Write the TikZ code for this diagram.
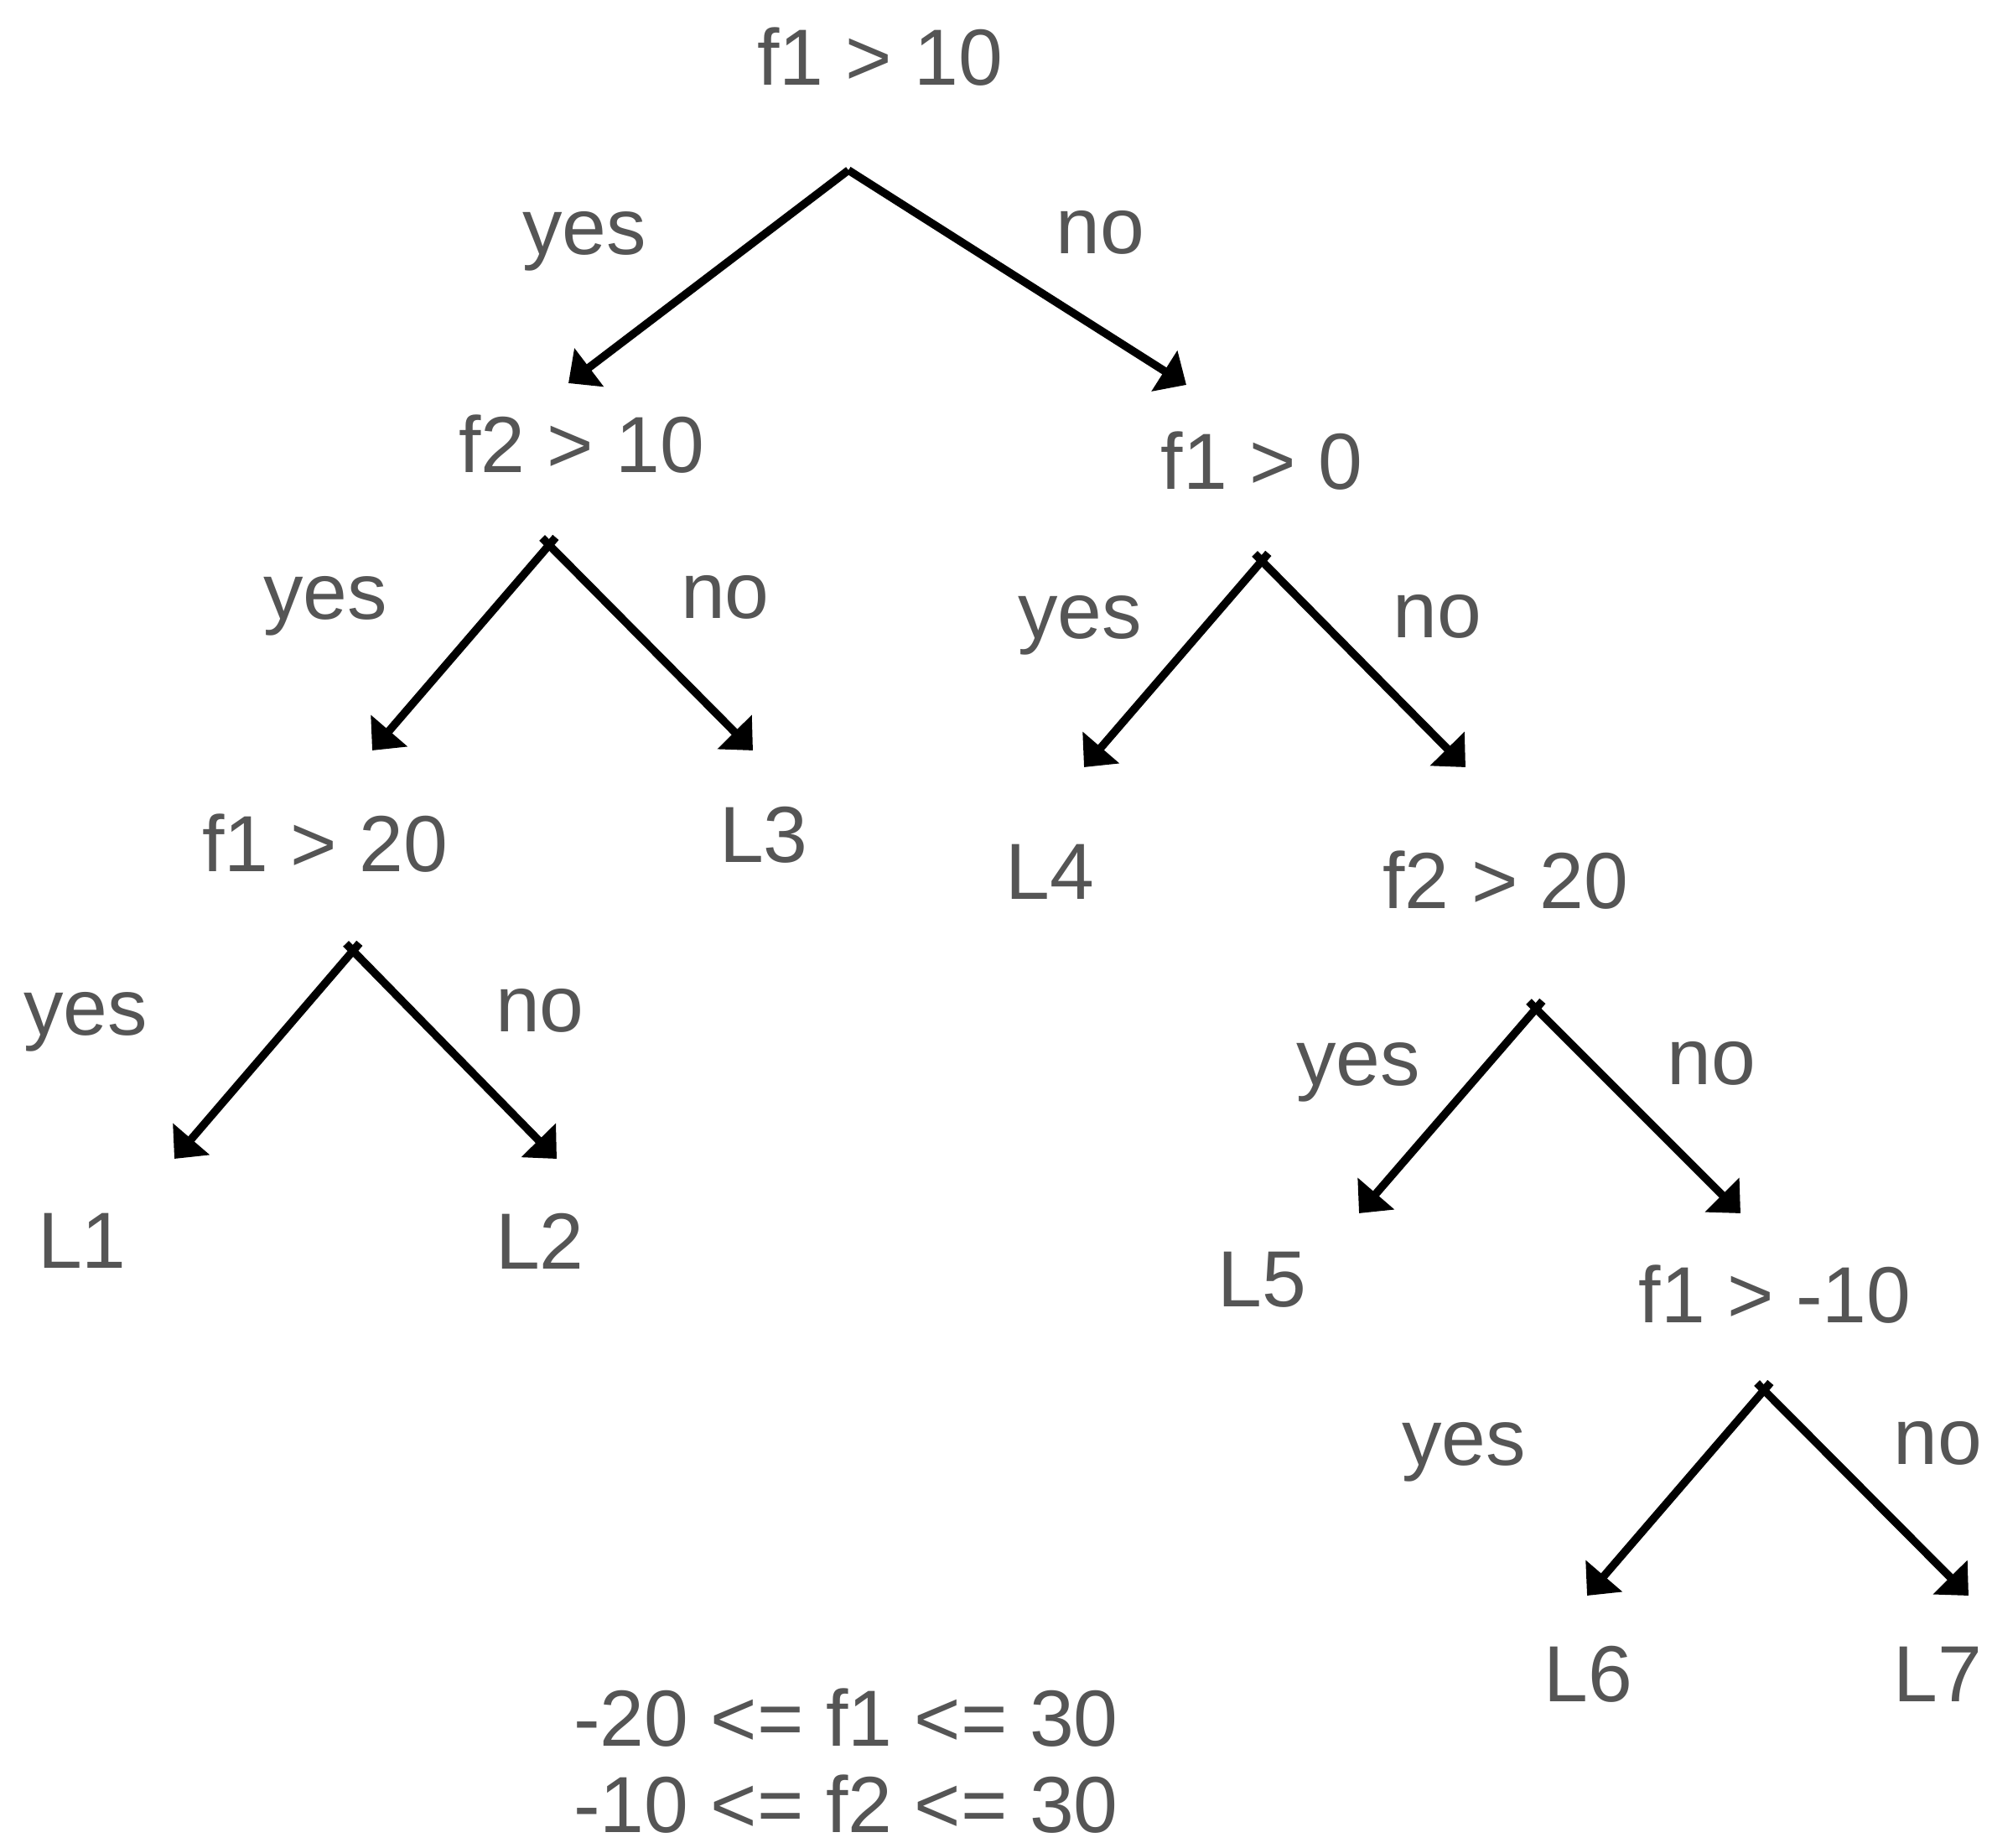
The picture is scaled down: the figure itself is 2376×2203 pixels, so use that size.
\documentclass[tikz,border=0pt]{standalone}
\usepackage{fontspec}
\setmainfont{Liberation Sans}
\usetikzlibrary{arrows.meta}
\definecolor{txtgray}{HTML}{555555}

\begin{document}
\begin{tikzpicture}[
    x=0.01cm, y=-0.01cm,
    lbl/.style={text=txtgray, inner sep=0pt, font=\fontsize{27}{32}\selectfont},
    edge/.style={line width=2.7pt, black, -{Triangle[length=0.31cm, width=0.56cm]}},
    split/.style={edge, shorten <=-0.12cm}
]
    \useasboundingbox (0,0) rectangle (2376,2203);

    % --- Root: f1 > 10
    \node[lbl] (R)   at (1050, 68)  {f1 > 10};
    \node[lbl] (Ry)  at (697, 288)  {yes};
    \node[lbl] (Rn)  at (1312, 277) {no};
    \coordinate (Rs)  at (1012, 203);
    \coordinate (Rty) at (678, 457);
    \coordinate (Rtn) at (1415, 459);

    % --- Left: f2 > 10
    \node[lbl] (A)   at (694, 530)  {f2 > 10};
    \node[lbl] (Ay)  at (388, 723)  {yes};
    \node[lbl] (An)  at (865, 712)  {no};
    \coordinate (As)  at (655, 650);
    \coordinate (Aty) at (444, 895);
    \coordinate (Atn) at (898, 895);

    % --- Right: f1 > 0
    \node[lbl] (B)   at (1505, 550) {f1 > 0};
    \node[lbl] (By)  at (1288, 746) {yes};
    \node[lbl] (Bn)  at (1714, 735) {no};
    \coordinate (Bs)  at (1505, 669);
    \coordinate (Bty) at (1293, 915);
    \coordinate (Btn) at (1748, 915);

    % --- f1 > 20 and leaves
    \node[lbl] (C)   at (388, 1006) {f1 > 20};
    \node[lbl] (L3)  at (911, 996)  {L3};
    \node[lbl] (L4)  at (1252, 1040) {L4};
    \node[lbl] (Cy)  at (102, 1219) {yes};
    \node[lbl] (Cn)  at (644, 1205) {no};
    \coordinate (Cs)  at (421, 1134);
    \coordinate (Cty) at (208, 1382);
    \coordinate (Ctn) at (664, 1382);
    \node[lbl] (L1)  at (98, 1480)  {L1};
    \node[lbl] (L2)  at (644, 1480) {L2};

    % --- f2 > 20
    \node[lbl] (D)   at (1796, 1050) {f2 > 20};
    \node[lbl] (Dy)  at (1620, 1279) {yes};
    \node[lbl] (Dn)  at (2041, 1268) {no};
    \coordinate (Ds)  at (1832, 1203);
    \coordinate (Dty) at (1621, 1447);
    \coordinate (Dtn) at (2076, 1447);
    \node[lbl] (L5)  at (1505, 1526) {L5};

    % --- f1 > -10
    \node[lbl] (E)   at (2117, 1544) {f1 > -10};
    \node[lbl] (Ey)  at (1746, 1732) {yes};
    \node[lbl] (En)  at (2311, 1721) {no};
    \coordinate (Es)  at (2104, 1658);
    \coordinate (Ety) at (1893, 1903);
    \coordinate (Etn) at (2348, 1903);
    \node[lbl] (L6)  at (1894, 1997) {L6};
    \node[lbl] (L7)  at (2311, 1997) {L7};

    % --- ranges
    \node[lbl] (rg1) at (1009, 2049) {-20 <= f1 <= 30};
    \node[lbl] (rg2) at (1009, 2152) {-10 <= f2 <= 30};

    \draw[edge] (Rs) -- (Rty);
    \draw[edge] (Rs) -- (Rtn);

    \draw[split] (As) -- (Aty);
    \draw[split] (As) -- (Atn);
    \draw[split] (Bs) -- (Bty);
    \draw[split] (Bs) -- (Btn);
    \draw[split] (Cs) -- (Cty);
    \draw[split] (Cs) -- (Ctn);
    \draw[split] (Ds) -- (Dty);
    \draw[split] (Ds) -- (Dtn);
    \draw[split] (Es) -- (Ety);
    \draw[split] (Es) -- (Etn);

\end{tikzpicture}
\end{document}
